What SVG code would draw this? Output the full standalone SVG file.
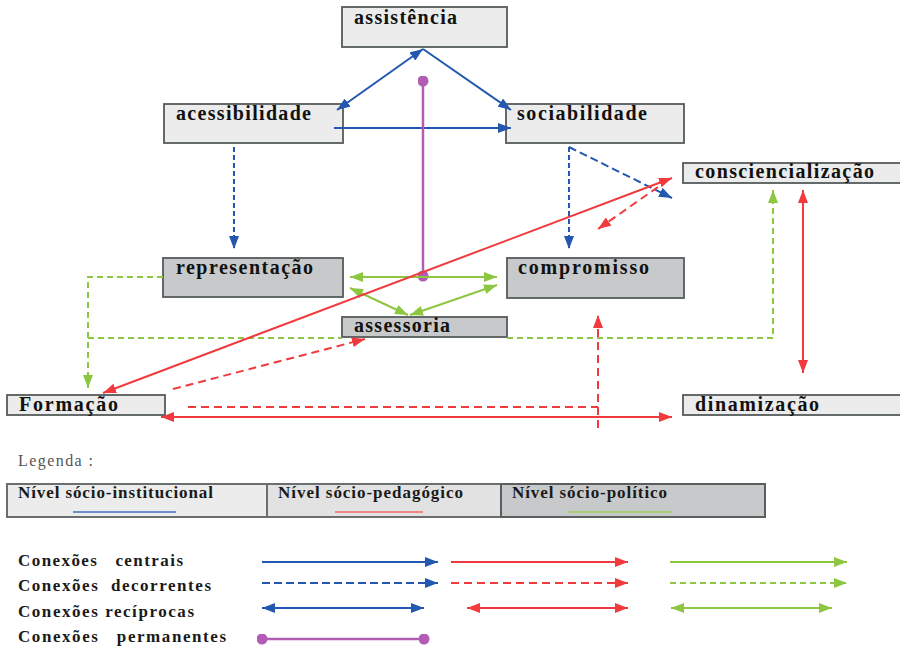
<svg xmlns="http://www.w3.org/2000/svg" width="900" height="647" viewBox="0 0 900 647">
<defs>
<style>
.box{stroke:#555a5b;stroke-width:1.8}
.lt{fill:#ebeceb}
.dk{fill:#c8c9ca}
.lbl{font-family:"Liberation Serif","Times New Roman",serif;font-weight:bold;font-size:20px;fill:#111}
.leg{font-family:"Liberation Serif","Times New Roman",serif;font-weight:bold;font-size:17px;fill:#1a1a1a}
.b{stroke:#2457b0;stroke-width:2;fill:none}
.r{stroke:#f03a3d;stroke-width:2;fill:none}
.g{stroke:#8dc640;stroke-width:2;fill:none}
.p{stroke:#b05db3;stroke-width:2.5;fill:none}
.bd{stroke-dasharray:5 3}
.bd2{stroke-dasharray:8 4}
.rd{stroke-dasharray:8 5}
.gd{stroke-dasharray:6 4}
</style>
<marker id="ab" viewBox="0 0 13 10" refX="13" refY="5" markerWidth="13" markerHeight="10" markerUnits="userSpaceOnUse" orient="auto-start-reverse"><path d="M0,0 L13,5 L0,10 z" fill="#2457b0"/></marker>
<marker id="ar" viewBox="0 0 13 10" refX="13" refY="5" markerWidth="13" markerHeight="10" markerUnits="userSpaceOnUse" orient="auto-start-reverse"><path d="M0,0 L13,5 L0,10 z" fill="#f03a3d"/></marker>
<marker id="ag" viewBox="0 0 13 10" refX="13" refY="5" markerWidth="13" markerHeight="10" markerUnits="userSpaceOnUse" orient="auto-start-reverse"><path d="M0,0 L13,5 L0,10 z" fill="#8dc640"/></marker>
<marker id="dp" viewBox="0 0 10 10" refX="5" refY="5" markerWidth="11" markerHeight="11" markerUnits="userSpaceOnUse"><circle cx="5" cy="5" r="5" fill="#b05db3"/></marker>
</defs>
<rect width="900" height="647" fill="#fff"/>

<g id="n-assistencia"><rect class="box lt" x="342" y="7" width="165" height="40"/><text class="lbl" x="354" y="24" textLength="103" lengthAdjust="spacing">assistência</text></g>
<g id="n-acessibilidade"><rect class="box lt" x="164" y="104" width="179" height="39"/><text class="lbl" x="176" y="120" textLength="135" lengthAdjust="spacing">acessibilidade</text></g>
<g id="n-sociabilidade"><rect class="box lt" x="506" y="104" width="178" height="39"/><text class="lbl" x="517" y="120" textLength="130" lengthAdjust="spacing">sociabilidade</text></g>
<g id="n-consciencializacao"><rect class="box lt" x="683" y="163" width="220" height="20"/><text class="lbl" x="695" y="178" textLength="179" lengthAdjust="spacing">consciencialização</text></g>
<g id="n-representacao"><rect class="box dk" x="163" y="258" width="180" height="39"/><text class="lbl" x="176" y="274" textLength="137" lengthAdjust="spacing">representação</text></g>
<g id="n-compromisso"><rect class="box dk" x="507" y="258" width="177" height="40"/><text class="lbl" x="518" y="274" textLength="131" lengthAdjust="spacing">compromisso</text></g>
<g id="n-assessoria"><rect class="box dk" x="342" y="317" width="165" height="20"/><text class="lbl" x="354" y="332" textLength="96" lengthAdjust="spacing">assessoria</text></g>
<g id="n-formacao"><rect class="box lt" x="7" y="395" width="158" height="20"/><text class="lbl" x="19" y="411" textLength="99" lengthAdjust="spacing">Formação</text></g>
<g id="n-dinamizacao"><rect class="box lt" x="683" y="395" width="220" height="20"/><text class="lbl" x="695" y="411" textLength="124" lengthAdjust="spacing">dinamização</text></g>

<g id="connectors">
<line class="b" x1="423" y1="49" x2="337" y2="110" marker-start="url(#ab)" marker-end="url(#ab)"/>
<line class="b" x1="423" y1="49" x2="511" y2="110" marker-end="url(#ab)"/>
<line class="b" x1="334" y1="128" x2="511" y2="128" marker-end="url(#ab)"/>
<line class="b bd" x1="234" y1="147" x2="234" y2="249" marker-end="url(#ab)"/>
<line class="b bd" x1="569" y1="147" x2="569" y2="249" marker-end="url(#ab)"/>
<line class="b bd2" x1="569" y1="147" x2="672" y2="198" marker-end="url(#ab)"/>
<line class="p" x1="423" y1="81" x2="423" y2="276" marker-start="url(#dp)" marker-end="url(#dp)"/>
<line class="g" x1="350" y1="277" x2="497" y2="277" marker-start="url(#ag)" marker-end="url(#ag)"/>
<line class="g" x1="350" y1="288" x2="408" y2="315" marker-start="url(#ag)" marker-end="url(#ag)"/>
<line class="g" x1="497" y1="285" x2="410" y2="315" marker-start="url(#ag)" marker-end="url(#ag)"/>
<path class="g gd" d="M163,277 H88 V388" marker-end="url(#ag)"/>
<path class="g gd" d="M88,338 H342"/>
<path class="g gd" d="M507,338 H773 V190" marker-end="url(#ag)"/>
<line class="r" x1="672" y1="178" x2="103" y2="393" marker-start="url(#ar)" marker-end="url(#ar)"/>
<line class="r rd" x1="658" y1="187" x2="598" y2="229" marker-end="url(#ar)"/>
<line class="r" x1="803" y1="190" x2="803" y2="373" marker-start="url(#ar)" marker-end="url(#ar)"/>
<line class="r" x1="161" y1="417" x2="672" y2="417" marker-start="url(#ar)" marker-end="url(#ar)"/>
<path class="r rd" d="M188,407 H598"/>
<line class="r rd" x1="598" y1="428" x2="598" y2="315" marker-end="url(#ar)"/>
<line class="r rd" x1="173" y1="389" x2="365" y2="339" marker-end="url(#ar)"/>
</g>

<g id="legend">
<text x="18" y="466" font-family="Liberation Serif, Times New Roman, serif" font-size="16" fill="#555" textLength="75" lengthAdjust="spacing">Legenda :</text>
<rect x="7" y="484" width="260" height="33" fill="#ebeceb" stroke="#6a6e6e" stroke-width="2"/>
<rect x="267" y="484" width="234" height="33" fill="#e1e2e1" stroke="#6a6e6e" stroke-width="2"/>
<rect x="501" y="484" width="264" height="33" fill="#c8c9ca" stroke="#5a5e5e" stroke-width="2"/>
<text class="leg" x="18" y="498" textLength="195" lengthAdjust="spacing">Nível sócio-institucional</text>
<text class="leg" x="278" y="498" textLength="185" lengthAdjust="spacing">Nível sócio-pedagógico</text>
<text class="leg" x="512" y="498" textLength="155" lengthAdjust="spacing">Nível sócio-político</text>
<line x1="73" y1="512" x2="176" y2="512" stroke="#4a6cc0" stroke-width="1.5"/>
<line x1="335" y1="512" x2="423" y2="512" stroke="#f0686a" stroke-width="1.5"/>
<line x1="568" y1="512" x2="672" y2="512" stroke="#9ccc5a" stroke-width="1.5"/>

<text class="leg" x="18" y="566" xml:space="preserve" textLength="165" lengthAdjust="spacing">Conexões   centrais</text>
<text class="leg" x="18" y="591" xml:space="preserve" textLength="193" lengthAdjust="spacing">Conexões  decorrentes</text>
<text class="leg" x="18" y="617" textLength="176" lengthAdjust="spacing">Conexões recíprocas</text>
<text class="leg" x="18" y="642" xml:space="preserve" textLength="208" lengthAdjust="spacing">Conexões   permanentes</text>

<line class="b" x1="262" y1="562" x2="438" y2="562" marker-end="url(#ab)"/>
<line class="b bd2" x1="262" y1="583" x2="438" y2="583" marker-end="url(#ab)"/>
<line class="b" x1="262" y1="608" x2="424" y2="608" marker-start="url(#ab)" marker-end="url(#ab)"/>
<line class="p" x1="262" y1="639" x2="424" y2="639" marker-start="url(#dp)" marker-end="url(#dp)"/>

<line class="r" x1="451" y1="562" x2="628" y2="562" marker-end="url(#ar)"/>
<line class="r rd" x1="451" y1="583" x2="628" y2="583" marker-end="url(#ar)"/>
<line class="r" x1="467" y1="608" x2="628" y2="608" marker-start="url(#ar)" marker-end="url(#ar)"/>

<line class="g" x1="670" y1="562" x2="847" y2="562" marker-end="url(#ag)"/>
<line class="g gd" x1="670" y1="583" x2="847" y2="583" marker-end="url(#ag)"/>
<line class="g" x1="671" y1="608" x2="832" y2="608" marker-start="url(#ag)" marker-end="url(#ag)"/>
</g>
</svg>
